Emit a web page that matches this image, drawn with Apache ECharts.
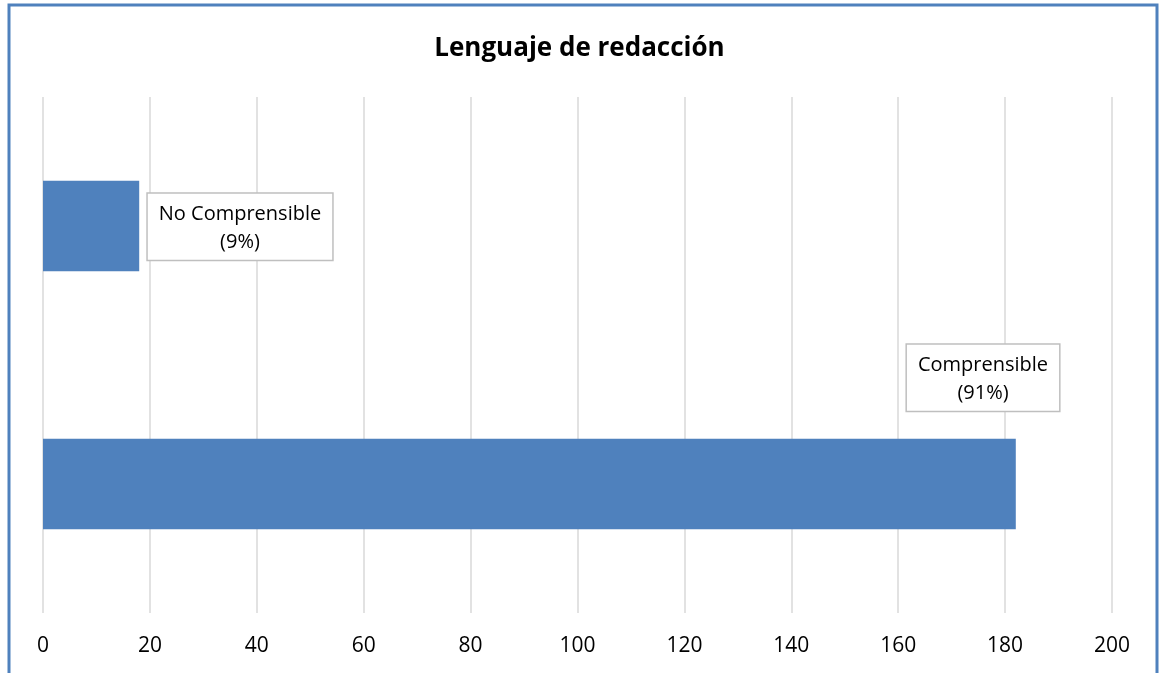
<!DOCTYPE html>
<html>
<head>
<meta charset="utf-8">
<script src="https://cdn.jsdelivr.net/npm/echarts@6/dist/echarts.min.js"></script>
<style>
  html, body { margin: 0; padding: 0; background: #fff; }
  #chart { width: 1159px; height: 673px; }
</style>
</head>
<body>
<div id="chart"></div>
<script>
// datos del gráfico
var categorias = ['Comprensible', 'No Comprensible'];
var valores = [182, 18];
var porcentajes = ['91%', '9%'];
var ticks = [0, 20, 40, 60, 80, 100, 120, 140, 160, 180, 200];

var chart = echarts.init(document.getElementById('chart'));

var cajaEtiqueta = {
    show: true,
    color: '#000',
    fontFamily: 'Open Sans',
    fontSize: 20,
    lineHeight: 28,
    align: 'center',
    verticalAlign: 'top',
    backgroundColor: '#fff',
    borderColor: '#BFBFBF',
    borderWidth: 1.5,
    padding: [6, 11, 4, 11],
    formatter: function (p) {
        return p.name + '\n(' + porcentajes[p.dataIndex] + ')';
    }
};

var option = {
    animation: false,
    title: {
        text: 'Lenguaje de redacción',
        left: 'center',
        top: 31,
        textStyle: {
            fontFamily: 'Open Sans',
            fontWeight: 'bold',
            fontSize: 26,
            color: '#000'
        }
    },
    graphic: [{
        type: 'rect',
        shape: { x: 9, y: 5, width: 1148, height: 720 },
        style: { fill: 'none', stroke: '#4F81BD', lineWidth: 3 },
        silent: true
    }],
    grid: {
        left: 43,
        right: 47,
        top: 97,
        bottom: 60
    },
    xAxis: {
        type: 'value',
        min: 0,
        max: 200,
        interval: 20,
        axisLine: { show: false },
        axisTick: { show: false },
        axisLabel: {
            color: '#000',
            fontFamily: 'Open Sans',
            fontSize: 21,
            margin: 23,
            formatter: function (v) { return ticks.indexOf(v) >= 0 ? String(v) : ''; }
        },
        splitLine: { lineStyle: { color: '#D9D9D9', width: 1.5 } }
    },
    yAxis: {
        type: 'category',
        data: categorias,
        axisLine: { show: false },
        axisTick: { show: false },
        axisLabel: { show: false },
        splitLine: { show: false }
    },
    series: [{
        type: 'bar',
        barWidth: '35%',
        itemStyle: { color: '#4F81BD' },
        data: [
            {
                value: valores[0],
                label: Object.assign({}, cajaEtiqueta, { position: [940, -94] })
            },
            {
                value: valores[1],
                label: Object.assign({}, cajaEtiqueta, { position: [197, 13] })
            }
        ]
    }]
};

chart.setOption(option);
</script>
</body>
</html>
